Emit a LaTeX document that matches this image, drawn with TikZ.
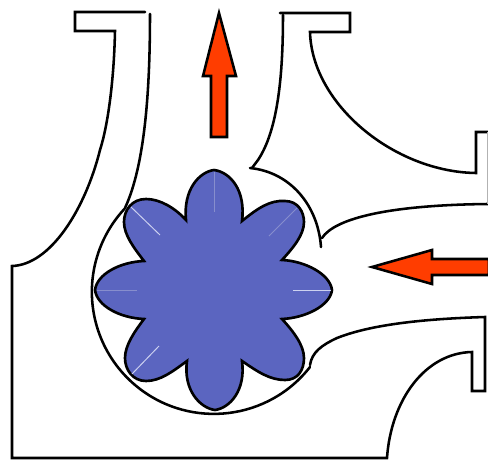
\documentclass[tikz,border=0pt]{standalone}
\usetikzlibrary{arrows.meta,positioning,calc}
\definecolor{rotorBlue}{RGB}{91,101,192}
\definecolor{flowRed}{RGB}{255,61,0}
\definecolor{spokeLight}{RGB}{205,210,240}
\definecolor{spokeFaint}{RGB}{135,142,205}
\tikzset{
  casing/.style={draw=black, line width=1.45pt, line join=miter, line cap=round},
  rotor/.style={draw=black, line width=1.5pt, fill=rotorBlue},
  flowarrow/.style={draw=black, line width=1.45pt, fill=flowRed, line join=miter},
  spoke/.style={draw=spokeLight, line width=0.55pt},
  faintspoke/.style={draw=spokeFaint, line width=0.45pt}
}
\begin{document}
\begin{tikzpicture}[x=0.02cm,y=-0.02cm]
    \useasboundingbox (0,0) rectangle (488,460);

    \draw[casing] (145,12) -- (75,12) -- (75,31) -- (115,31)
        .. controls (114,80) and (108,125) .. (100,150)
        .. controls (85,210) and (50,265) .. (12,266)
        -- (12,458) -- (387,458)
        .. controls (391,400) and (425,353) .. (472,352)
        -- (472,391) -- (485,391) -- (485,317)
        .. controls (420,319) and (370,325) .. (337,338)
        .. controls (322,345) and (312,352) .. (310,365);
    \draw[casing] (310,367) arc[start angle=38, end angle=223, radius=122];
    \draw[casing] (150,14) .. controls (150,90) and (145,165) .. (125,208);
    \draw[casing] (280,13) -- (350,13) -- (350,32) -- (310,32)
        .. controls (312,105) and (395,172) .. (476,173) -- (476,132) -- (488,132);
    \draw[casing] (283,15) .. controls (283,75) and (278,130) .. (258,160) -- (252,168);
    \draw[casing] (250,168) .. controls (290,172) and (318,205) .. (321,247);
    \draw[casing] (322,238) .. controls (335,218) and (390,205) .. (488,204);
    \draw[draw=black!30, line width=0.5pt] (487.5,132) -- (487.5,204);

    \draw[rotor] (186,220) .. controls (183,190) and (199,172) .. (214,170)
        .. controls (230,172) and (246,190) .. (242,221)
        .. controls (258,208) and (270,200) .. (285,201)
        .. controls (298,201) and (304,212) .. (304,222)
        .. controls (304,235) and (293,248) .. (282,260)
        .. controls (305,261) and (330,274) .. (332,290)
        .. controls (330,306) and (305,318) .. (282,319)
        .. controls (293,331) and (304,345) .. (304,358)
        .. controls (304,370) and (298,380) .. (285,380)
        .. controls (270,380) and (258,372) .. (242,361)
        .. controls (246,390) and (230,408) .. (215,410)
        .. controls (200,408) and (183,390) .. (187,361)
        .. controls (172,372) and (160,381) .. (146,381)
        .. controls (133,381) and (125,370) .. (125,358)
        .. controls (125,345) and (135,331) .. (144,319)
        .. controls (120,318) and (97,306) .. (95,290)
        .. controls (97,274) and (120,262) .. (144,261)
        .. controls (134,248) and (124,235) .. (124,222)
        .. controls (124,210) and (132,199) .. (146,199)
        .. controls (160,199) and (175,208) .. (186,220) -- cycle;

    \draw[faintspoke] (214,172) -- (214,212);
    \draw[faintspoke] (297,208) -- (269,236);
    \draw[faintspoke] (97,290) -- (137,290);
    \draw[spoke] (293,290) -- (331,290);
    \draw[spoke] (131,207) -- (160,235);
    \draw[spoke] (132,374) -- (159,346);

    \draw[flowarrow] (219,13) -- (236,76) -- (227,76) -- (227,137)
        -- (211,137) -- (211,76) -- (203,76) -- cycle;
    \draw[flowarrow] (372,267) -- (432,250) -- (432,259) -- (489,259)
        -- (489,275) -- (432,275) -- (432,284) -- cycle;
\end{tikzpicture}
\end{document}
